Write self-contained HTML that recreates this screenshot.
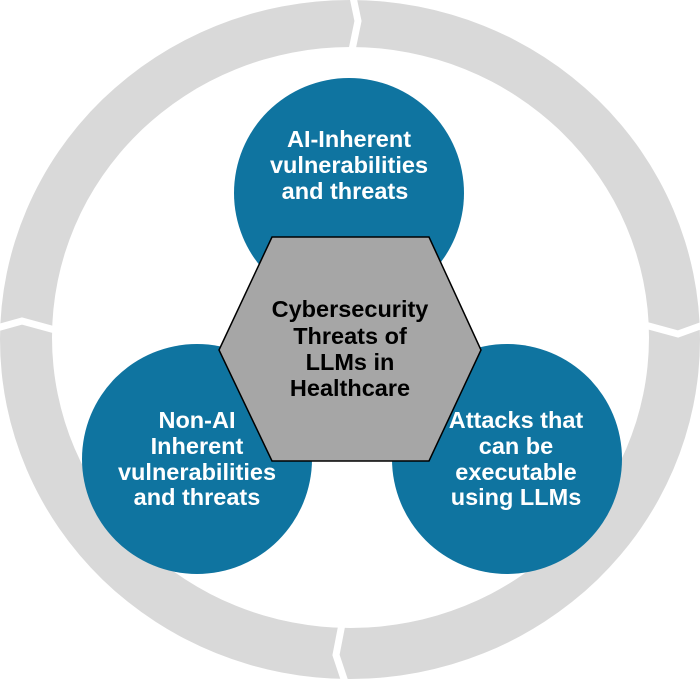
<!DOCTYPE html>
<html><head><meta charset="utf-8"><style>
html,body{margin:0;padding:0;background:#fff;}
svg{display:block;}
text{font-family:"Liberation Sans",Arial,sans-serif;font-weight:bold;font-size:23.5px;text-anchor:middle;}
</style></head><body>
<svg width="700" height="679" viewBox="0 0 700 679" xmlns="http://www.w3.org/2000/svg">
<path fill="#d9d9d9" fill-rule="evenodd" d="M0,339.5 a350,339.5 0 1,0 700,0 a350,339.5 0 1,0 -700,0 Z M52,337.5 a298.5,290.5 0 1,0 597,0 a298.5,290.5 0 1,0 -597,0 Z"/>
<g fill="none" stroke="#fff" stroke-width="7" stroke-linejoin="miter">
<polyline points="353,-3 358,21 352,50"/>
<polyline points="-3,328 22,321 55,330"/>
<polyline points="645,325 678,334 703,325"/>
<polyline points="342,624 336,655 345,682"/>
</g>
<g fill="#0f74a0">
<circle cx="349" cy="193" r="115"/>
<circle cx="197" cy="459" r="115"/>
<circle cx="507" cy="459" r="115"/>
</g>
<polygon points="219,350 272,237 429,237 481,350 429,461 272,461" fill="#a6a6a6" stroke="#000" stroke-width="1.5"/>
<g fill="#fff">
<text x="349" y="147">AI-Inherent</text>
<text x="349" y="173">vulnerabilities</text>
<text x="345" y="199">and threats</text>
<text x="197" y="428">Non-AI</text>
<text x="197" y="454">Inherent</text>
<text x="197" y="480">vulnerabilities</text>
<text x="197" y="505">and threats</text>
<text x="516" y="428">Attacks that</text>
<text x="516" y="454">can be</text>
<text x="516" y="480">executable</text>
<text x="516" y="505">using LLMs</text>
</g>
<g fill="#000">
<text x="350" y="317">Cybersecurity</text>
<text x="350" y="344">Threats of</text>
<text x="350" y="370">LLMs in</text>
<text x="350" y="396">Healthcare</text>
</g>
</svg>
</body></html>
